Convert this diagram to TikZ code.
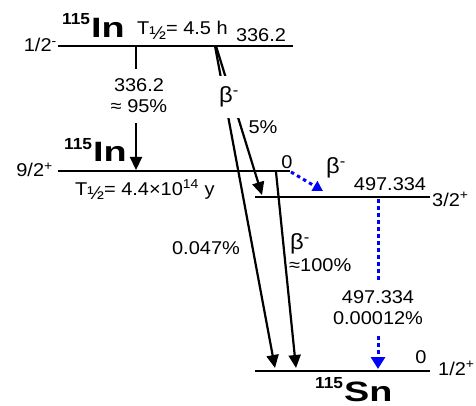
\documentclass[tikz,border=0pt]{standalone}
\usepackage{fontspec}
\setmainfont{Liberation Sans}[FakeStretch=1.08]
\newfontfamily\nucfont{Liberation Sans}[FakeStretch=1.35]
\usetikzlibrary{arrows.meta}

\newcommand{\labfont}{\fontsize{18.5}{21}\selectfont}
\newcommand{\betafont}{\fontsize{22}{24}\selectfont}
\newcommand{\nuclide}[2]{\raisebox{13pt}{\fontsize{16}{16}\selectfont\bfseries #1}\kern1pt{\nucfont\fontsize{28}{28}\selectfont\bfseries #2}}
\newcommand{\thalf}{T\raisebox{-5pt}{½}}

\begin{document}
\begin{tikzpicture}[
    x=1pt, y=-1pt,
    every node/.style={inner sep=0pt, font=\labfont},
    lvl/.style={line width=2.8pt},
    gam/.style={line width=2.2pt},
    beta/.style={line width=2.2pt, -{Triangle[length=13pt, width=12pt]}},
    blu/.style={blue, line width=3pt, dash pattern=on 3.5pt off 3.5pt},
    blutip/.style={blu, -{Triangle[length=12pt, width=14pt]}},
    betalab/.style={font=\betafont},
    gamlab/.style={fill=white, align=center, inner xsep=2pt, inner ysep=10pt},
]
\useasboundingbox (0,0) rectangle (476,406);

% levels
\coordinate (isoL) at (58,46);   \coordinate (isoR) at (293,46);
\coordinate (gsL)  at (58,171);  \coordinate (gsR)  at (290,171);
\coordinate (exL)  at (255,197); \coordinate (exR)  at (430,197);
\coordinate (snL)  at (255,371); \coordinate (snR)  at (430,371);
\draw[lvl] (isoL) -- (isoR);
\draw[lvl] (gsL) -- (gsR);
\draw[lvl] (exL) -- (exR);
\draw[lvl] (snL) -- (snR);

% level labels
\node[anchor=base west] (inTop) at (62,38) {\nuclide{115}{In}};
\node[anchor=base west] (thTop) at (137,35) {\thalf= 4.5 h};
\node[anchor=base] (eTop) at (261,42) {336.2};
\node[anchor=base east] (jTop) at (57,52) {1/2\textsuperscript{-}};
\node[anchor=base west] (inGs) at (64,162) {\nuclide{115}{In}};
\node[anchor=base west] (thGs) at (75,195) {\thalf= 4.4×10\textsuperscript{14} y};
\node (eGs) at (287,162) {0};
\node[anchor=base east] (jGs) at (53,177) {9/2\textsuperscript{+}};
\node (eEx) at (390,184) {497.334};
\node[anchor=base west] (jEx) at (432,206) {3/2\textsuperscript{+}};
\node (eSn) at (421,357) {0};
\node[anchor=base west] (jSn) at (438,375) {1/2\textsuperscript{+}};
\node[anchor=base west] (snName) at (315,401) {\nuclide{115}{Sn}};

% isomeric transition
\coordinate (itS) at (136,46);
\coordinate (itE) at (136,170);
\node[gamlab] (itLab) at (139,96) {336.2\\≈ 95\%};
\draw[gam] (itS) -- (itS |- itLab.north);
\draw[beta] (itS |- itLab.south) -- (itE);

% beta branches
\coordinate (b1S) at (216,46);  \coordinate (b1E) at (262,195);
\coordinate (b2S) at (215,46);  \coordinate (b2E) at (275,368);
\coordinate (b3S) at (276,172); \coordinate (b3E) at (296,368);
\draw[beta] (b1S) -- (b1E);
\draw[beta] (b2S) -- (b2E);
\draw[beta] (b3S) -- (b3E);
\node[betalab, fill=white, minimum width=27pt, minimum height=42pt] (b1Lab) at (229,97) {β\textsuperscript{-}};
\node (b1Pct) at (263,127) {5\%};
\node (b2Pct) at (206,248) {0.047\%};
\node[betalab, anchor=west] (b3Lab) at (290,244) {β\textsuperscript{-}};
\node[anchor=west] (b3Pct) at (289,265) {≈100\%};

% blue branches
\coordinate (bbS) at (291,172); \coordinate (bbE) at (323,191);
\draw[blu, -{Triangle[length=10pt, width=11pt]}] (bbS) -- (bbE);
\node[betalab] (bbLab) at (336,168) {β\textsuperscript{-}};
\coordinate (g2S) at (378,199); \coordinate (g2E) at (378,369);
\node[gamlab, inner ysep=11pt] (g2Lab) at (378,308) {497.334\\0.00012\%};
\draw[blu] (g2S) -- (g2Lab.north);
\draw[blutip] (g2Lab.south) -- (g2E);
\end{tikzpicture}
\end{document}
